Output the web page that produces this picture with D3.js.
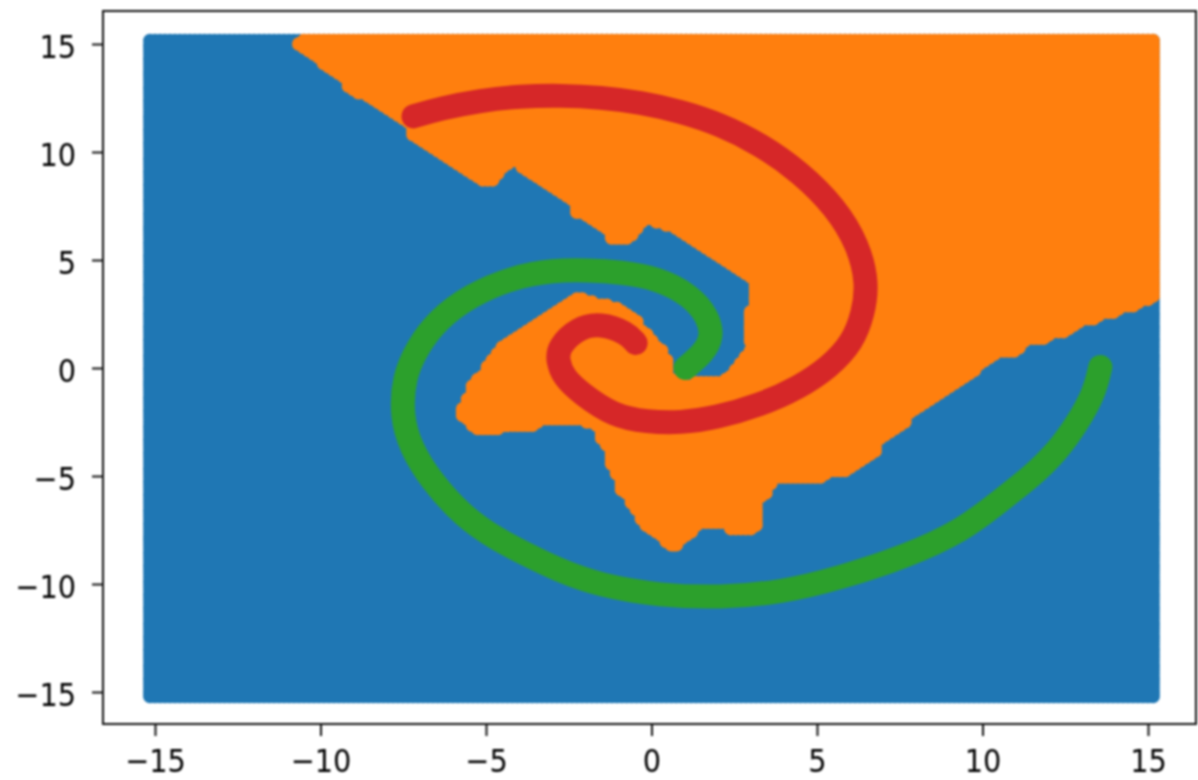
<!DOCTYPE html>
<html>
<head>
<meta charset="utf-8">
<script src="https://cdn.jsdelivr.net/npm/d3@7"></script>
<style>
  html, body { margin: 0; padding: 0; background: #fff; overflow: hidden; }
  svg { display: block; filter: blur(0.8px); }
  .tick text { font-family: "DejaVu Sans Condensed", "DejaVu Sans", sans-serif; font-size: 32px; fill: #000; }
  .tick line { stroke: #111; stroke-width: 2; }
  .domain { display: none; }
</style>
</head>
<body>
<svg class="chart" width="1198" height="780"></svg>
<script>
const tickValues = [-15, -10, -5, 0, 5, 10, 15]

// outline of the orange class
const orangeOutline = [
  [-10.76,15.49],[-10.88,14.93],[-10.82,14.79],[-9.40,13.18],[-9.40,12.95],[-7.49,11.14],[-7.49,10.77],
  [-5.26,8.41],[-4.62,8.41],[-4.47,8.92],[-4.20,9.29],[-2.54,7.54],[-2.45,7.07],[-1.48,6.24],[-1.30,5.69],
  [-0.69,5.69],[-0.27,6.24],[-0.18,6.56],[0.57,6.29],[1.69,5.09],[2.93,3.93],[2.93,3.01],[2.69,2.68],
  [2.69,1.20],[2.84,1.06],[2.33,0],[2.08,-0.37],[1.39,-0.37],[1.09,-0.46],[0.73,-0.32],[0.66,0.51],
  [0.36,1.16],[-0.12,1.90],[-0.24,2.36],[-0.85,3.01],[-1.33,3.24],[-1.63,3.24],[-2.05,3.51],[-2.24,3.51],
  [-2.45,3.37],[-4.77,1.02],[-5.17,0.05],[-5.68,-0.88],[-5.77,-1.57],[-6.01,-2.03],[-5.92,-2.40],
  [-5.26,-3.19],[-4.65,-3.19],[-4.47,-2.96],[-3.44,-2.96],[-3.29,-2.68],[-2.14,-2.68],[-1.78,-2.96],
  [-1.75,-3.33],[-1.54,-3.56],[-1.48,-4.48],[-1.24,-4.85],[-1.18,-5.64],[-0.88,-6.10],[-0.63,-6.66],
  [-0.57,-7.12],[0.57,-8.55],[0.79,-8.55],[1.27,-7.86],[1.54,-7.49],[2.15,-7.49],[2.30,-7.77],[3.20,-7.77],
  [3.35,-7.35],[3.35,-6.33],[3.60,-5.96],[3.87,-5.36],[5.26,-5.36],[5.38,-5.09],[5.89,-5.04],[6.95,-4.02],
  [6.98,-3.56],[7.73,-2.87],[7.92,-2.40],[10.51,0.37],[10.97,0.42],[11.42,0.97],[11.90,1.02],[12.18,1.39],
  [12.54,1.34],[12.99,1.90],[13.44,1.90],[13.63,2.17],[14.02,2.22],[14.26,2.54],[14.65,2.54],[14.83,2.82],
  [15.17,2.87],[15.38,3.14],[15.38,15.49]
]

const redSpiral = [
  [-7.19,11.65],[-6.37,12.02],[-5.17,12.39],[-3.96,12.58],[-2.75,12.62],[-1.54,12.53],[-0.33,12.30],
  [0.88,11.88],[2.08,11.28],[3.29,10.36],[4.50,9.06],[5.56,7.44],[6.25,5.69],[6.53,3.93],[6.40,2.54],
  [6.07,1.16],[5.38,0.05],[4.44,-0.92],[3.29,-1.71],[1.93,-2.31],[0.88,-2.54],[-0.12,-2.50],[-1.15,-2.22],
  [-2.14,-1.16],[-2.66,-0.42],[-2.84,0.37],[-2.81,0.97],[-2.24,1.85],[-1.54,2.08],[-0.73,1.62],[-0.48,1.16]
]

const greenSpiral = [
  [13.56,0.05],[13.38,-1.16],[12.87,-2.54],[12.30,-3.79],[11.48,-5.04],[10.45,-6.24],[9.43,-7.49],
  [7.67,-8.74],[5.71,-9.71],[3.90,-10.40],[2.08,-10.63],[0.27,-10.54],[-1.54,-10.08],[-2.84,-9.34],
  [-3.75,-8.65],[-4.65,-7.95],[-5.68,-6.89],[-6.68,-5.18],[-7.28,-3.65],[-7.55,-2.27],[-7.49,-0.42],
  [-7.07,0.97],[-6.47,2.22],[-5.47,3.37],[-4.17,4.21],[-2.96,4.53],[-1.93,4.53],[-0.94,4.44],[0.18,4.16],
  [1.18,3.37],[1.72,2.36],[1.84,1.43],[1.57,0.69],[1.03,0]
]

const xScale = d3.scaleLinear().domain([-15, 15]).range([155, 1148])
const yScale = d3.scaleLinear().domain([-15, 15]).range([692, 44])

const frame = { left: 103, right: 1196, top: 11, bottom: 724 }
const markerRadius = 7
const format = d => String(d).replace('-', '\u2212')

const svg = d3.select('svg.chart')

// mesh of points the classifier was evaluated on
const gridX = d3.range(203).map(i => -15.15 + i * 0.15)
const gridY = d3.range(204).map(i => -15.2 + i * 0.1495)
const grid = gridX.flatMap(x => gridY.map(y => [x, y]))

const outlinePx = orangeOutline.map(d => [xScale(d[0]), yScale(d[1])])

const distToEdge = (p, a, b) => {
  const dx = b[0] - a[0], dy = b[1] - a[1]
  const t = Math.max(0, Math.min(1, ((p[0] - a[0]) * dx + (p[1] - a[1]) * dy) / (dx * dx + dy * dy)))
  return Math.hypot(p[0] - a[0] - t * dx, p[1] - a[1] - t * dy)
}

// a point is orange if its whole marker sits inside the outline
const isOrange = d => {
  const p = [xScale(d[0]), yScale(d[1])]
  if (!d3.polygonContains(outlinePx, p)) return false
  return outlinePx.every((a, i) => distToEdge(p, a, outlinePx[(i + 1) % outlinePx.length]) >= markerRadius - 1)
}

// all markers of a class go in one path, there are too many for single circles
const markerPath = points => {
  const path = d3.path()
  points.forEach(d => {
    const x = xScale(d[0]), y = yScale(d[1])
    path.moveTo(x + markerRadius, y)
    path.arc(x, y, markerRadius, 0, 2 * Math.PI)
  })
  return path.toString()
}

svg.selectAll('path.cls')
  .data([{ points: grid, color: '#1f77b4' }, { points: grid.filter(isOrange), color: '#ff7f0e' }])
  .enter()
  .append('path')
  .attr('class', 'cls')
  .attr('d', d => markerPath(d.points))
  .attr('fill', d => d.color)

const line = d3.line()
  .x(d => xScale(d[0]))
  .y(d => yScale(d[1]))
  .curve(d3.curveBasis)

svg.selectAll('path.spiral')
  .data([{ values: greenSpiral, color: '#2ca02c' }, { values: redSpiral, color: '#d62728' }])
  .enter()
  .append('path')
  .attr('class', 'spiral')
  .attr('d', d => line(d.values))
  .attr('fill', 'none')
  .attr('stroke', d => d.color)
  .attr('stroke-width', 24)
  .attr('stroke-linecap', 'round')
  .attr('stroke-linejoin', 'round')

svg.append('rect')
  .attr('x', frame.left)
  .attr('y', frame.top)
  .attr('width', frame.right - frame.left)
  .attr('height', frame.bottom - frame.top)
  .attr('fill', 'none')
  .attr('stroke', '#111')
  .attr('stroke-width', 2)

svg.append('g')
  .attr('transform', `translate(0,${frame.bottom})`)
  .call(d3.axisBottom(xScale).tickValues(tickValues).tickFormat(format).tickSize(12).tickPadding(13))

svg.append('g')
  .attr('transform', `translate(${frame.left},0)`)
  .call(d3.axisLeft(yScale).tickValues(tickValues).tickFormat(format).tickSize(11).tickPadding(16))
  .selectAll('text')
  .attr('dy', '0.43em')
</script>
</body>
</html>
